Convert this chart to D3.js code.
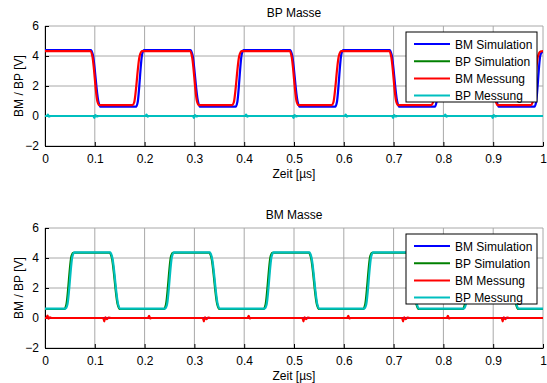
<!DOCTYPE html>
<html>
<head>
<meta charset="utf-8">
<script src="https://cdn.jsdelivr.net/npm/d3@7"></script>
<style>
  body { margin: 0; background: #fff; }
  text { font-family: "Liberation Sans", Arial, sans-serif; }
</style>
</head>
<body>
<script>
// chart data (time in µs, voltage in V)
var xTicks = [0, 0.1, 0.2, 0.3, 0.4, 0.5, 0.6, 0.7, 0.8, 0.9, 1];
var yTicks = [-2, 0, 2, 4, 6];
var seriesNames = ["BM Simulation", "BP Simulation", "BM Messung", "BP Messung"];
var seriesColors = ["#0000ff", "#008000", "#ff0000", "#00bfbf"];

// top panel: BP Masse
var topBmSim = [[0,4.4],[0.092,4.4],[0.096,4.1],[0.107,1.0],[0.111,0.62],[0.183,0.62],[0.186,0.9],[0.195,4.1],[0.199,4.4],
  [0.292,4.4],[0.296,4.1],[0.307,1.0],[0.311,0.62],[0.383,0.62],[0.386,0.9],[0.395,4.1],[0.399,4.4],
  [0.492,4.4],[0.496,4.1],[0.507,1.0],[0.511,0.62],[0.583,0.62],[0.586,0.9],[0.595,4.1],[0.599,4.4],
  [0.692,4.4],[0.696,4.1],[0.707,1.0],[0.711,0.62],[0.783,0.62],[0.786,0.9],[0.795,4.1],[0.799,4.4],
  [0.892,4.4],[0.896,4.1],[0.907,1.0],[0.911,0.62],[0.983,0.62],[0.986,0.9],[0.995,4.1],[1,4.3]];
var topBpSim = [[0,0],[1,0]];
var topBmMess = [[0,4.32],[0.091,4.32],[0.095,4.0],[0.105,1.0],[0.109,0.72],[0.176,0.72],[0.179,0.9],[0.190,4.0],[0.195,4.32],
  [0.291,4.32],[0.295,4.0],[0.305,1.0],[0.309,0.72],[0.376,0.72],[0.379,0.9],[0.390,4.0],[0.395,4.32],
  [0.491,4.32],[0.495,4.0],[0.505,1.0],[0.509,0.72],[0.576,0.72],[0.579,0.9],[0.590,4.0],[0.595,4.32],
  [0.691,4.32],[0.695,4.0],[0.705,1.0],[0.709,0.72],[0.776,0.72],[0.779,0.9],[0.790,4.0],[0.795,4.32],
  [0.891,4.32],[0.895,4.0],[0.905,1.0],[0.909,0.72],[0.976,0.72],[0.979,0.9],[0.990,4.0],[0.995,4.3],[1,4.32]];
var topBpMess = [[0,0],[0.004,0],[0.006,0.1],[0.008,-0.04],[0.011,0],
  [0.097,0],[0.099,-0.12],[0.101,0.06],[0.104,-0.03],[0.108,0],
  [0.202,0],[0.204,0.1],[0.206,-0.04],[0.209,0],
  [0.297,0],[0.299,-0.12],[0.301,0.06],[0.304,-0.03],[0.308,0],
  [0.402,0],[0.404,0.1],[0.406,-0.04],[0.409,0],
  [0.497,0],[0.499,-0.12],[0.501,0.06],[0.504,-0.03],[0.508,0],
  [0.602,0],[0.604,0.1],[0.606,-0.04],[0.609,0],
  [0.697,0],[0.699,-0.12],[0.701,0.06],[0.704,-0.03],[0.708,0],
  [0.802,0],[0.804,0.1],[0.806,-0.04],[0.809,0],
  [0.897,0],[0.899,-0.12],[0.901,0.06],[0.904,-0.03],[0.908,0],[1,0]];

// bottom panel: BM Masse
var botBmSim = [[0,0],[1,0]];
var botBpSim = [[0,0.6],[0.039,0.6],[0.043,0.9],[0.053,4.1],[0.057,4.35],[0.130,4.35],[0.134,4.05],[0.146,0.9],[0.150,0.6],
  [0.239,0.6],[0.243,0.9],[0.253,4.1],[0.257,4.35],[0.330,4.35],[0.334,4.05],[0.346,0.9],[0.350,0.6],
  [0.439,0.6],[0.443,0.9],[0.453,4.1],[0.457,4.35],[0.530,4.35],[0.534,4.05],[0.546,0.9],[0.550,0.6],
  [0.639,0.6],[0.643,0.9],[0.653,4.1],[0.657,4.35],[0.730,4.35],[0.734,4.05],[0.746,0.9],[0.750,0.6],
  [0.839,0.6],[0.843,0.9],[0.853,4.1],[0.857,4.35],[0.930,4.35],[0.934,4.05],[0.946,0.9],[0.950,0.6],[1,0.6]];
var botBmMess = [[0,0],[0.003,0],[0.005,0.16],[0.007,-0.05],[0.010,0.05],[0.013,0],
  [0.117,0],[0.119,-0.22],[0.121,0.04],[0.124,-0.08],[0.128,0.03],[0.133,0],
  [0.207,0],[0.209,0.15],[0.211,-0.03],[0.214,0],
  [0.317,0],[0.319,-0.22],[0.321,0.04],[0.324,-0.08],[0.328,0.03],[0.333,0],
  [0.407,0],[0.409,0.15],[0.411,-0.03],[0.414,0],
  [0.517,0],[0.519,-0.22],[0.521,0.04],[0.524,-0.08],[0.528,0.03],[0.533,0],
  [0.607,0],[0.609,0.15],[0.611,-0.03],[0.614,0],
  [0.717,0],[0.719,-0.22],[0.721,0.04],[0.724,-0.08],[0.728,0.03],[0.733,0],
  [0.807,0],[0.809,0.15],[0.811,-0.03],[0.814,0],
  [0.917,0],[0.919,-0.22],[0.921,0.04],[0.924,-0.08],[0.928,0.03],[0.933,0],[1,0]];
var botBpMess = [[0,0.63],[0.041,0.63],[0.045,0.9],[0.055,4.1],[0.059,4.37],[0.131,4.37],[0.135,4.05],[0.147,0.9],[0.151,0.63],
  [0.241,0.63],[0.245,0.9],[0.255,4.1],[0.259,4.37],[0.331,4.37],[0.335,4.05],[0.347,0.9],[0.351,0.63],
  [0.441,0.63],[0.445,0.9],[0.455,4.1],[0.459,4.37],[0.531,4.37],[0.535,4.05],[0.547,0.9],[0.551,0.63],
  [0.641,0.63],[0.645,0.9],[0.655,4.1],[0.659,4.37],[0.731,4.37],[0.735,4.05],[0.747,0.9],[0.751,0.63],
  [0.841,0.63],[0.845,0.9],[0.855,4.1],[0.859,4.37],[0.931,4.37],[0.935,4.05],[0.947,0.9],[0.951,0.63],[1,0.63]];

var panels = [
  { title: "BP Masse", top: 26, legendTop: 32, series: [topBmSim, topBpSim, topBmMess, topBpMess] },
  { title: "BM Masse", top: 228, legendTop: 234, series: [botBmSim, botBpSim, botBmMess, botBpMess] }
];

var w = 547, h = 383;
var left = 45, right = 543, plotH = 120;

var svg = d3.select("body").append("svg")
  .attr("width", w)
  .attr("height", h);

var x = d3.scaleLinear().domain([0, 1]).range([left, right]);

panels.forEach(function(p, pi){
  var y = d3.scaleLinear().domain([-2, 6]).range([p.top + plotH, p.top]);
  var g = svg.append("g").attr("class", "panel");

  // grid lines
  g.selectAll(".vgrid").data(xTicks).enter().append("line")
    .attr("x1", function(d){ return x(d); }).attr("x2", function(d){ return x(d); })
    .attr("y1", p.top).attr("y2", p.top + plotH)
    .attr("stroke", "#a8a8a8").attr("stroke-width", 1);
  g.selectAll(".hgrid").data(yTicks).enter().append("line")
    .attr("x1", left).attr("x2", right)
    .attr("y1", function(d){ return y(d); }).attr("y2", function(d){ return y(d); })
    .attr("stroke", "#a8a8a8").attr("stroke-width", 1);

  // axes, ticks point inward like matlab
  var xAxis = d3.axisBottom(x).tickValues(xTicks).tickSizeInner(-4).tickSizeOuter(0)
    .tickPadding(8).tickFormat(d3.format("~g"));
  var yAxis = d3.axisLeft(y).tickValues(yTicks).tickSizeInner(-4).tickSizeOuter(0)
    .tickPadding(6).tickFormat(d3.format("d"));

  var gx = g.append("g").attr("transform", "translate(0," + (p.top + plotH) + ")").call(xAxis);
  var gy = g.append("g").attr("transform", "translate(" + left + ",0)").call(yAxis);
  [gx, gy].forEach(function(a){
    a.selectAll("text").style("font-size", "12px").attr("fill", "#000");
    a.select(".domain").attr("stroke", "#000");
  });

  // lines, clipped to the plot area
  var clipId = "clip" + pi;
  svg.append("clipPath").attr("id", clipId).append("rect")
    .attr("x", left).attr("y", p.top).attr("width", right - left).attr("height", plotH);

  var line = d3.line()
    .x(function(d){ return x(d[0]); })
    .y(function(d){ return y(d[1]); })
    .curve(d3.curveMonotoneX);

  g.append("g").attr("clip-path", "url(#" + clipId + ")")
    .selectAll("path").data(p.series).enter().append("path")
    .attr("d", line)
    .attr("fill", "none")
    .attr("stroke", function(d, i){ return seriesColors[i]; })
    .attr("stroke-width", 2.2)
    .attr("stroke-linejoin", "round");

  // title and labels
  g.append("text").attr("x", (left + right) / 2).attr("y", p.top - 9)
    .attr("text-anchor", "middle").style("font-size", "12px").text(p.title);
  g.append("text").attr("x", (left + right) / 2).attr("y", p.top + plotH + 32)
    .attr("text-anchor", "middle").style("font-size", "12px").text("Zeit [µs]");
  g.append("text")
    .attr("transform", "translate(23," + (p.top + plotH / 2) + ") rotate(-90)")
    .attr("text-anchor", "middle").style("font-size", "12px").text("BM / BP [V]");

  // legend box
  var lg = g.append("g").attr("transform", "translate(406," + p.legendTop + ")");
  lg.append("rect").attr("width", 131).attr("height", 70)
    .attr("fill", "#fff").attr("stroke", "#000").attr("stroke-width", 1);
  var item = lg.selectAll(".item").data(seriesNames).enter().append("g")
    .attr("transform", function(d, i){ return "translate(0," + (12 + i * 17.2) + ")"; });
  item.append("line").attr("x1", 8).attr("x2", 44).attr("y1", 0).attr("y2", 0)
    .attr("stroke", function(d, i){ return seriesColors[i]; }).attr("stroke-width", 2);
  item.append("text").attr("x", 49).attr("y", 4.5).style("font-size", "12px").text(function(d){ return d; });
});
</script>
</body>
</html>
